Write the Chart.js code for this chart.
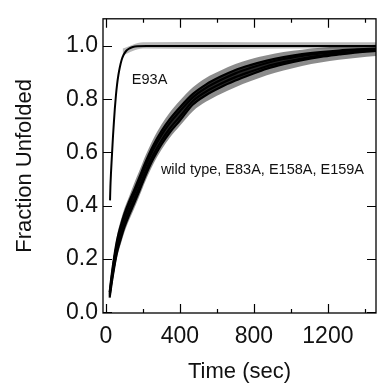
<!DOCTYPE html>
<html>
<head>
<meta charset="utf-8">
<script src="https://cdn.jsdelivr.net/npm/chart.js@4.4.1/dist/chart.umd.min.js"></script>
<style>
  body { margin: 0; background: #fff; }
  #chart { display: block; }
</style>
</head>
<body>
<canvas id="chart" width="377" height="386"></canvas>
<script>
// Tick values for both axes
const xTicks = [0, 400, 800, 1200];
const yTicks = [0.0, 0.2, 0.4, 0.6, 0.8, 1.0];

// E93A: fast unfolding curve
const timeE93 = [22, 24, 27, 30, 34, 38, 43, 48, 54, 60, 67, 75, 85, 95, 110, 125, 145, 170, 220, 400, 700, 1000, 1300, 1460];
const e93a = [0.42, 0.47, 0.52, 0.56, 0.61, 0.66, 0.715, 0.765, 0.815, 0.855, 0.89, 0.92, 0.948, 0.966, 0.982, 0.99, 0.996, 0.999, 1.0, 1.0, 1.0, 1.0, 1.0, 1.0];
// scatter of the raw E93A data around the plateau
const timeE93Noise = [90, 200, 600, 1000, 1460];
const e93aNoiseHigh = [0.99, 1.014, 1.015, 1.014, 1.014];
const e93aNoiseLow = [0.965, 0.99, 0.989, 0.99, 0.99];

// wild type and the three slow mutants
const timeWt = [20, 30, 45, 60, 80, 100, 125, 150, 180, 215, 255, 300, 345, 400, 470, 540, 620, 700, 780, 870, 960, 1060, 1160, 1260, 1360, 1460];
const wildType = [0.075, 0.135, 0.21, 0.27, 0.325, 0.37, 0.415, 0.455, 0.505, 0.565, 0.625, 0.68, 0.725, 0.77, 0.82, 0.855, 0.885, 0.91, 0.928, 0.945, 0.958, 0.969, 0.977, 0.983, 0.987, 0.99];
const e83a = [0.07, 0.125, 0.2, 0.255, 0.31, 0.355, 0.4, 0.44, 0.49, 0.55, 0.61, 0.665, 0.71, 0.755, 0.807, 0.842, 0.872, 0.897, 0.917, 0.936, 0.951, 0.963, 0.972, 0.979, 0.985, 0.988];
const e158a = [0.062, 0.115, 0.18, 0.235, 0.29, 0.335, 0.38, 0.42, 0.47, 0.53, 0.59, 0.645, 0.69, 0.735, 0.793, 0.828, 0.858, 0.883, 0.903, 0.924, 0.939, 0.953, 0.964, 0.973, 0.979, 0.984];
const e159a = [0.055, 0.105, 0.17, 0.225, 0.275, 0.32, 0.365, 0.405, 0.455, 0.515, 0.575, 0.63, 0.675, 0.72, 0.78, 0.815, 0.845, 0.87, 0.892, 0.915, 0.932, 0.947, 0.959, 0.968, 0.976, 0.981];
// spread of the raw data around the slow curves
const wtNoiseHigh = [0.085, 0.15, 0.225, 0.29, 0.345, 0.39, 0.435, 0.48, 0.53, 0.59, 0.65, 0.705, 0.75, 0.795, 0.845, 0.88, 0.908, 0.932, 0.95, 0.965, 0.977, 0.986, 0.993, 0.998, 1.002, 1.005];
const wtNoiseLow = [0.045, 0.09, 0.15, 0.205, 0.255, 0.3, 0.345, 0.385, 0.435, 0.495, 0.555, 0.61, 0.655, 0.7, 0.755, 0.79, 0.82, 0.845, 0.867, 0.89, 0.908, 0.925, 0.938, 0.948, 0.956, 0.962];

const labels = [
  { text: "E93A", x: 140, y: 0.872 },
  { text: "wild type, E83A, E158A, E159A", x: 297, y: 0.534 }
];

const FONT = "'Liberation Sans', Arial, Helvetica, sans-serif";

function pts(xs, ys) {
  return xs.map((x, i) => ({ x: x, y: ys[i] }));
}

function curve(label, xs, ys, width, fillTo) {
  return {
    label: label,
    data: pts(xs, ys),
    borderColor: "#000",
    borderWidth: width,
    pointRadius: 0,
    backgroundColor: "rgba(0,0,0,0.72)",
    fill: fillTo === undefined ? false : fillTo,
    cubicInterpolationMode: "monotone",
    order: 1
  };
}

function band(label, xs, ys, fillColor) {
  return {
    label: label,
    data: pts(xs, ys),
    borderWidth: 0,
    pointRadius: 0,
    backgroundColor: fillColor,
    fill: fillColor ? "+1" : false,
    cubicInterpolationMode: "monotone",
    order: 5
  };
}

// frame, inward ticks and the in-plot labels
const framePlugin = {
  id: "frame",
  afterDatasetsDraw(chart) {
    const ctx = chart.ctx;
    const a = chart.chartArea;
    const xs = chart.scales.x;
    const ys = chart.scales.y;
    ctx.save();
    ctx.strokeStyle = "#000";
    ctx.lineWidth = 1.3;
    ctx.strokeRect(a.left, a.top, a.right - a.left, a.bottom - a.top);

    ctx.lineWidth = 1.2;
    ctx.beginPath();
    for (let v = 0; v <= 1400; v += 200) {
      const px = Math.round(xs.getPixelForValue(v)) + 0.5;
      const len = v % 400 === 0 ? 9 : 4;
      ctx.moveTo(px, a.bottom); ctx.lineTo(px, a.bottom - len);
      ctx.moveTo(px, a.top); ctx.lineTo(px, a.top + len);
    }
    yTicks.forEach(v => {
      const py = Math.round(ys.getPixelForValue(v)) + 0.5;
      ctx.moveTo(a.left, py); ctx.lineTo(a.left + 9, py);
      ctx.moveTo(a.right, py); ctx.lineTo(a.right - 9, py);
    });
    ctx.stroke();

    ctx.fillStyle = "#111";
    ctx.font = "14.5px " + FONT;
    ctx.textBaseline = "middle";
    labels.forEach(l => {
      ctx.fillText(l.text, xs.getPixelForValue(l.x), ys.getPixelForValue(l.y));
    });
    ctx.restore();
  }
};

new Chart(document.getElementById("chart"), {
  type: "line",
  data: {
    datasets: [
      curve("E93A", timeE93, e93a, 2),
      curve("wild type", timeWt, wildType, 2.2, 4),
      curve("E83A", timeWt, e83a, 2.2),
      curve("E158A", timeWt, e158a, 2.2),
      curve("E159A", timeWt, e159a, 2.2),
      band("wt data high", timeWt, wtNoiseHigh, "rgba(0,0,0,0.45)"),
      band("wt data low", timeWt, wtNoiseLow, null),
      band("E93A data high", timeE93Noise, e93aNoiseHigh, "rgba(0,0,0,0.28)"),
      band("E93A data low", timeE93Noise, e93aNoiseLow, null)
    ]
  },
  options: {
    responsive: false,
    animation: false,
    devicePixelRatio: 1,
    layout: { padding: { left: 0, right: 1, top: 13, bottom: 0 } },
    plugins: {
      legend: { display: false },
      tooltip: { enabled: false }
    },
    scales: {
      x: {
        type: "linear",
        min: -16,
        max: 1460,
        grid: { display: false, drawTicks: false },
        border: { display: false },
        afterBuildTicks: s => { s.ticks = xTicks.map(v => ({ value: v })); },
        afterFit: s => { s.height = 73; },
        ticks: {
          padding: 10,
          color: "#111",
          font: { family: FONT, size: 23 },
          maxRotation: 0,
          callback: v => String(v)
        },
        title: {
          display: true,
          text: "Time (sec)",
          color: "#111",
          font: { family: FONT, size: 22 },
          padding: { top: 0, bottom: 1 }
        }
      },
      y: {
        type: "linear",
        min: -0.003,
        max: 1.102,
        grid: { display: false, drawTicks: false },
        border: { display: false },
        afterBuildTicks: s => { s.ticks = yTicks.map(v => ({ value: v })); },
        afterFit: s => { s.width = 103; },
        ticks: {
          padding: 5,
          color: "#111",
          font: { family: FONT, size: 23 },
          callback: v => v.toFixed(1)
        },
        title: {
          display: true,
          text: "Fraction Unfolded",
          color: "#111",
          font: { family: FONT, size: 22 },
          padding: { top: 12, bottom: 0 }
        }
      }
    }
  },
  plugins: [framePlugin]
});
</script>
</body>
</html>
